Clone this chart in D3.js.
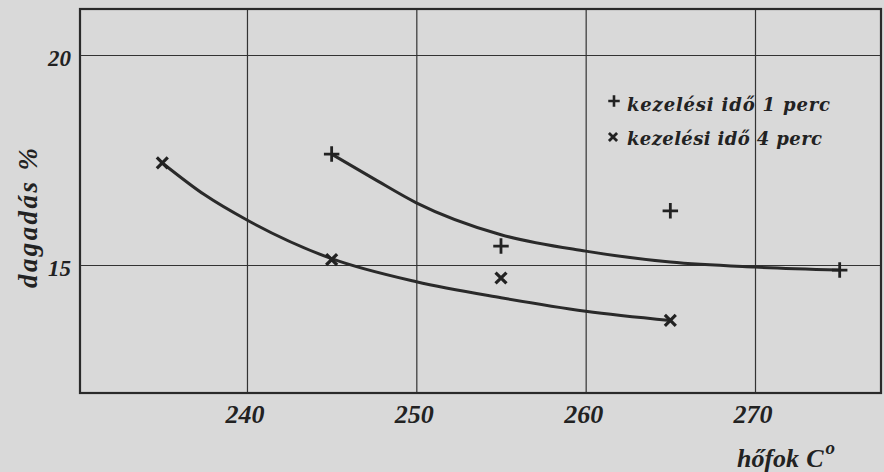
<!DOCTYPE html>
<html>
<head>
<meta charset="utf-8">
<script src="https://cdn.jsdelivr.net/npm/d3@7"></script>
<style>
  body { margin: 0; background: #d9d9d9; }
  svg { display: block; }
  text { font-family: "Liberation Serif", "DejaVu Serif", serif; font-weight: bold; font-style: italic; fill: #222; }
</style>
</head>
<body>
<svg width="884" height="472"></svg>
<script>
// measured points
var perc1Temp = [245, 255, 265, 275];
var perc1Swell = [17.64, 15.45, 16.29, 14.88];
var perc4Temp = [235, 245, 255, 265];
var perc4Swell = [17.43, 15.13, 14.69, 13.68];

// hand drawn fit curves
var fit1Temp = [245, 247.5, 250, 255, 260, 265, 270, 275];
var fit1Swell = [17.64, 17.05, 16.48, 15.72, 15.33, 15.07, 14.95, 14.88];
var fit4Temp = [235, 237.5, 240, 245, 250, 255, 260, 265];
var fit4Swell = [17.43, 16.67, 16.07, 15.15, 14.6, 14.22, 13.9, 13.68];

var xTicks = [240, 250, 260, 270];
var yTicks = [15, 20];
var legendLabels = ["kezelési idő 1 perc", "kezelési idő 4 perc"];

var svg = d3.select("svg");
var plotLeft = 80, plotRight = 881, plotTop = 9, plotBottom = 393;

var x = d3.scaleLinear().domain([230.14, 277.44]).range([plotLeft, plotRight]);
var y = d3.scaleLinear().domain([11.952, 21.095]).range([plotBottom, plotTop]);

// grid
svg.append("g")
  .attr("transform", "translate(0," + plotBottom + ")")
  .call(d3.axisBottom(x).tickValues(xTicks).tickSize(-(plotBottom - plotTop)).tickFormat(""))
  .call((g) => g.select(".domain").remove())
  .selectAll("line").attr("stroke", "#333").attr("stroke-width", 1.2);

svg.append("g")
  .attr("transform", "translate(" + plotLeft + ",0)")
  .call(d3.axisLeft(y).tickValues(yTicks).tickSize(-(plotRight - plotLeft)).tickFormat(""))
  .call((g) => g.select(".domain").remove())
  .selectAll("line").attr("stroke", "#333").attr("stroke-width", 1.2);

// frame
svg.append("rect")
  .attr("x", plotLeft).attr("y", plotTop)
  .attr("width", plotRight - plotLeft).attr("height", plotBottom - plotTop)
  .attr("fill", "none").attr("stroke", "#2a2a2a").attr("stroke-width", 2.2);

// tick labels
svg.selectAll(".xlab")
  .data(xTicks)
  .enter()
  .append("text")
  .attr("x", (d) => x(d) - 2)
  .attr("y", 423)
  .attr("text-anchor", "middle")
  .attr("font-size", 26)
  .text((d) => d);

svg.selectAll(".ylab")
  .data(yTicks)
  .enter()
  .append("text")
  .attr("x", 71)
  .attr("y", (d) => y(d) + 11)
  .attr("text-anchor", "end")
  .attr("font-size", 23)
  .text((d) => d);

// axis titles
var xTitle = svg.append("text")
  .attr("x", 737).attr("y", 467)
  .attr("font-size", 26);
xTitle.append("tspan").text("hőfok");
xTitle.append("tspan").attr("dx", 7).text("C");
xTitle.append("tspan")
  .attr("dx", 2).attr("dy", -13).attr("font-size", 19)
  .text("o");

svg.append("text")
  .attr("transform", "translate(37,288) rotate(-90)")
  .attr("font-size", 27)
  .attr("textLength", 140)
  .attr("lengthAdjust", "spacing")
  .text("dagadás %");

// curves
var line = d3.line()
  .x((d) => x(d[0]))
  .y((d) => y(d[1]))
  .curve(d3.curveMonotoneX);

[[fit1Temp, fit1Swell], [fit4Temp, fit4Swell]].forEach((s) => {
  svg.append("path")
    .attr("d", line(d3.zip(s[0], s[1])))
    .attr("fill", "none")
    .attr("stroke", "#2a2a2a")
    .attr("stroke-width", 3);
});

// markers
var plus = d3.symbol().type(d3.symbolPlus).size(80);
var times = d3.symbol().type(d3.symbolTimes).size(80);

svg.selectAll(".p1")
  .data(d3.zip(perc1Temp, perc1Swell))
  .enter()
  .append("path")
  .attr("transform", (d) => "translate(" + x(d[0]) + "," + y(d[1]) + ")")
  .attr("d", plus)
  .attr("fill", "none").attr("stroke", "#222").attr("stroke-width", 2.8);

svg.selectAll(".p4")
  .data(d3.zip(perc4Temp, perc4Swell))
  .enter()
  .append("path")
  .attr("transform", (d) => "translate(" + x(d[0]) + "," + y(d[1]) + ")")
  .attr("d", times)
  .attr("fill", "none").attr("stroke", "#222").attr("stroke-width", 3.2);

// legend
var legend = svg.append("g");
legend.append("path")
  .attr("transform", "translate(614,101)")
  .attr("d", d3.symbol().type(d3.symbolPlus).size(45))
  .attr("fill", "none").attr("stroke", "#222").attr("stroke-width", 2.6);
legend.append("path")
  .attr("transform", "translate(613,137)")
  .attr("d", d3.symbol().type(d3.symbolTimes).size(45))
  .attr("fill", "none").attr("stroke", "#222").attr("stroke-width", 2.8);

legend.selectAll("text")
  .data(legendLabels)
  .enter()
  .append("text")
  .attr("x", 627)
  .attr("y", (d, i) => 111 + i * 34)
  .style("font-family", "'DejaVu Serif', serif")
  .attr("font-size", 18)
  .attr("textLength", (d, i) => (i === 0 ? 203 : 195))
  .attr("lengthAdjust", "spacing")
  .text((d) => d);
</script>
</body>
</html>
